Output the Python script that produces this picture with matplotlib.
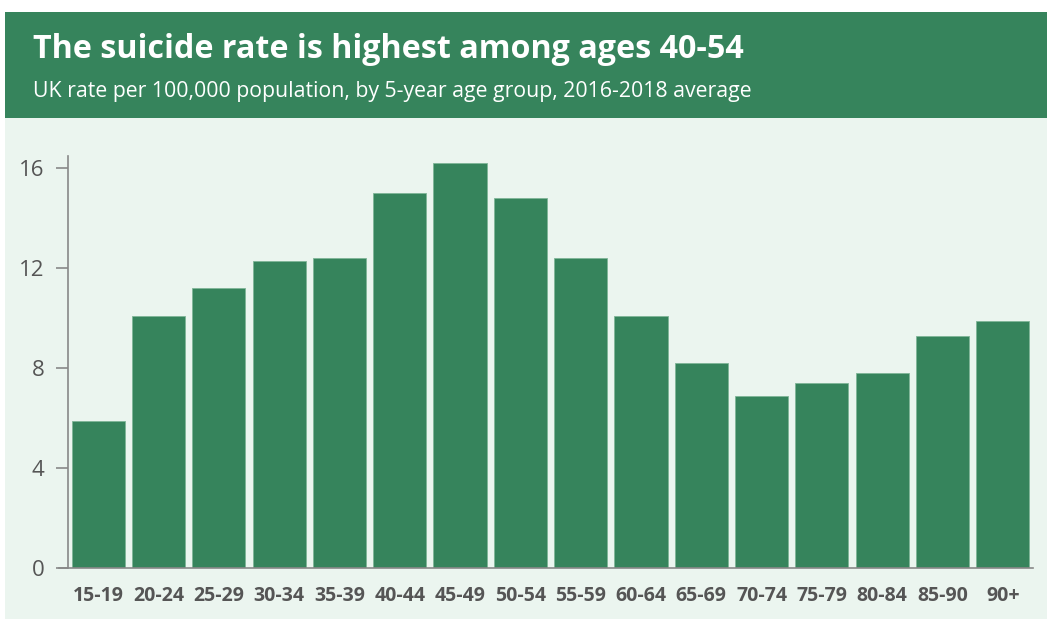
import matplotlib.pyplot as plt
from matplotlib.patches import Rectangle

age_groups = ["15-19", "20-24", "25-29", "30-34", "35-39", "40-44", "45-49", "50-54",
              "55-59", "60-64", "65-69", "70-74", "75-79", "80-84", "85-90", "90+"]
rates = [5.9, 10.1, 11.2, 12.3, 12.4, 15.0, 16.2, 14.8,
         12.4, 10.1, 8.2, 6.9, 7.4, 7.8, 9.3, 9.9]
y_ticks = [0, 4, 8, 12, 16]

title = "The suicide rate is highest among ages 40-54"
subtitle = "UK rate per 100,000 population, by 5-year age group, 2016-2018 average"

green = "#36845c"
panel = "#ebf5ef"
grey = "#555555"

plt.rcParams["font.family"] = ["Open Sans", "DejaVu Sans"]

W, H = 1047, 619
fig = plt.figure(figsize=(W / 100, H / 100), dpi=100, facecolor="white")

# header band and light panel behind the chart
fig.patches.append(Rectangle((5 / W, 1 - 118 / H), 1, 106 / H, transform=fig.transFigure,
                             facecolor=green, edgecolor="none", zorder=-2))
fig.patches.append(Rectangle((5 / W, 0), 1, 1 - 118 / H, transform=fig.transFigure,
                             facecolor=panel, edgecolor="none", zorder=-2))

fig.text(33 / W, 1 - 58 / H, title, color="white", fontsize=23.2, fontweight="bold",
         va="baseline", ha="left")
fig.text(33 / W, 1 - 97 / H, subtitle, color="white", fontsize=15.3,
         va="baseline", ha="left")

ax = fig.add_axes([68 / W, 1 - 568 / H, (1033 - 68) / W, (568 - 156) / H])
ax.set_facecolor("none")
x = list(range(len(age_groups)))
ax.bar(x, rates, width=0.88, color=green, edgecolor="#7fb597", linewidth=0.6, zorder=2)

ax.set_xlim(-0.5, len(age_groups) - 0.5)
ax.set_ylim(0, 16.5)
ax.set_yticks(y_ticks)
ax.set_yticklabels([str(t) for t in y_ticks])
ax.set_xticks(x)
ax.set_xticklabels(age_groups, fontweight="bold")

for side in ["top", "right"]:
    ax.spines[side].set_visible(False)
for side in ["left", "bottom"]:
    ax.spines[side].set_color("#888888")
    ax.spines[side].set_linewidth(1.2)
ax.spines["bottom"].set_bounds(-0.65, len(age_groups) - 0.5)

ax.tick_params(axis="y", length=9, width=1.2, color="#888888", labelcolor=grey,
               labelsize=16, pad=8)
ax.tick_params(axis="x", length=0, labelcolor=grey, labelsize=14, pad=13)

fig.savefig("out.png", dpi=100, facecolor="white")
